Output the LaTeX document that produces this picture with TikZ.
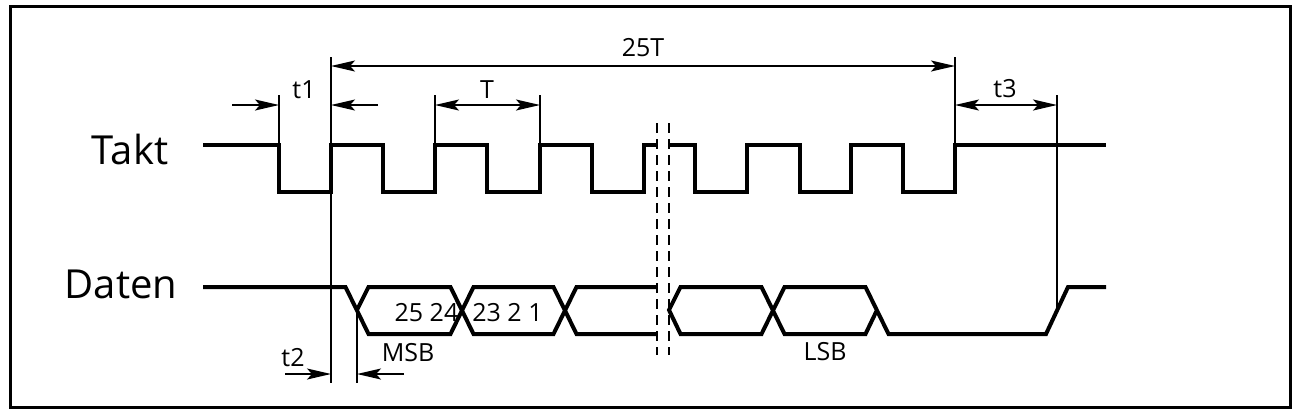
\documentclass[tikz,border=0pt]{standalone}
\usepackage{fontspec}
\setmainfont{Open Sans}
\usetikzlibrary{arrows.meta}
\tikzstyle{boxframe} = [line width=1.5pt]
\tikzstyle{wave} = [line width=2pt]
\tikzstyle{guide} = [line width=0.9pt]
\tikzstyle{breakline} = [line width=0.9pt, dash pattern=on 5pt off 3pt]
\tikzstyle{dimarrow} = [line width=0.9pt, -{Stealth[length=12pt, width=5.5pt, inset=2.5pt]}]
\tikzstyle{dimboth} = [line width=0.9pt, {Stealth[length=12pt, width=5.5pt, inset=2.5pt]}-{Stealth[length=12pt, width=5.5pt, inset=2.5pt]}]
\tikzstyle{signame} = [inner sep=0pt, anchor=base, font=\fontsize{20}{24}\selectfont]
\tikzstyle{timelabel} = [inner sep=0pt, anchor=base, font=\fontsize{12.5}{15}\selectfont]

\begin{document}
\begin{tikzpicture}[x=0.5pt, y=-0.5pt]
	\useasboundingbox (0,0) rectangle (1296,409);
	\draw [boxframe] (10,6) rectangle (1290,407);

	\node (takt) [signame] at (130,164) {Takt};
	\node (daten) [signame] at (121,298) {Daten};

	% Takt
	\draw [wave] (203,145) -- (279,145) -- (279,192) -- (331,192) -- (331,145) -- (383,145) -- (383,192) -- (435,192) -- (435,145) -- (487,145) -- (487,192) -- (540,192) -- (540,145) -- (592,145) -- (592,192) -- (644,192) -- (644,145) -- (657,145);
	\draw [wave] (669,145) -- (695,145) -- (695,192) -- (747,192) -- (747,145) -- (800,145) -- (800,192) -- (851,192) -- (851,145) -- (903,145) -- (903,192) -- (955,192) -- (955,145) -- (1106,145);

	% Daten
	\draw [wave] (203,287) -- (345.5,287) -- (368.5,334) -- (450.5,334) -- (473.5,287) -- (553.5,287) -- (576.5,334) -- (657,334);
	\draw [wave] (357,310) -- (368.5,287) -- (450.5,287) -- (473.5,334) -- (553.5,334) -- (576.5,287) -- (657,287);
	\draw [wave] (877,310) -- (865.5,334) -- (784.5,334) -- (761.5,287) -- (680.5,287) -- (669,310) -- (680.5,334) -- (761.5,334) -- (784.5,287) -- (865.5,287) -- (888.5,334) -- (1046,334) -- (1068,287) -- (1106,287);

	\node (b1) [timelabel] at (426.5,321) {25 24};
	\node (b2) [timelabel] at (507.5,321) {23 2 1};
	\node (msb) [timelabel] at (408,361) {MSB};
	\node (lsb) [timelabel] at (825,360) {LSB};

	% Unterbrechung
	\draw [breakline] (657,123) -- (657,355);
	\draw [breakline] (669,123) -- (669,355);

	% Hilfslinien
	\coordinate (start) at (331,105);
	\coordinate (stop) at (955,105);
	\coordinate (fall) at (279,105);
	\coordinate (pa) at (435,105);
	\coordinate (pb) at (540,105);
	\coordinate (ende) at (1057,105);
	\coordinate (bit) at (357,374);
	\draw [guide] (331,57) -- (331,383);
	\draw [guide] (955,57) -- (955,145);
	\draw [guide] (279,95) -- (279,145);
	\draw [guide] (435,95) -- (435,145);
	\draw [guide] (540,95) -- (540,145);
	\draw [guide] (1057,95) -- (1057,310);
	\draw [guide] (357,310) -- (bit |- 0,383);

	% Masse
	\coordinate (l25) at (331,66);
	\coordinate (r25) at (955,66);
	\draw [dimboth] (l25) -- node[timelabel, above=4pt] {25T} (r25);

	\coordinate (t1in) at (232,105);
	\coordinate (t1out) at (378,105);
	\draw [dimarrow] (t1in) -- (fall);
	\draw [dimarrow] (t1out) -- (start);
	\node (t1) [timelabel] at (304,98) {t1};

	\draw [dimboth] (pa) -- (pb);
	\node (per) [timelabel] at (487,98) {T};

	\draw [dimboth] (stop) -- (ende);
	\node (t3) [timelabel] at (1005,97) {t3};

	\coordinate (t2in) at (285,374);
	\coordinate (t2a) at (331,374);
	\coordinate (t2out) at (404,374);
	\draw [dimarrow] (t2in) -- (t2a);
	\draw [dimarrow] (t2out) -- (bit);
	\node (t2) [timelabel] at (293,366) {t2};
\end{tikzpicture}
\end{document}
